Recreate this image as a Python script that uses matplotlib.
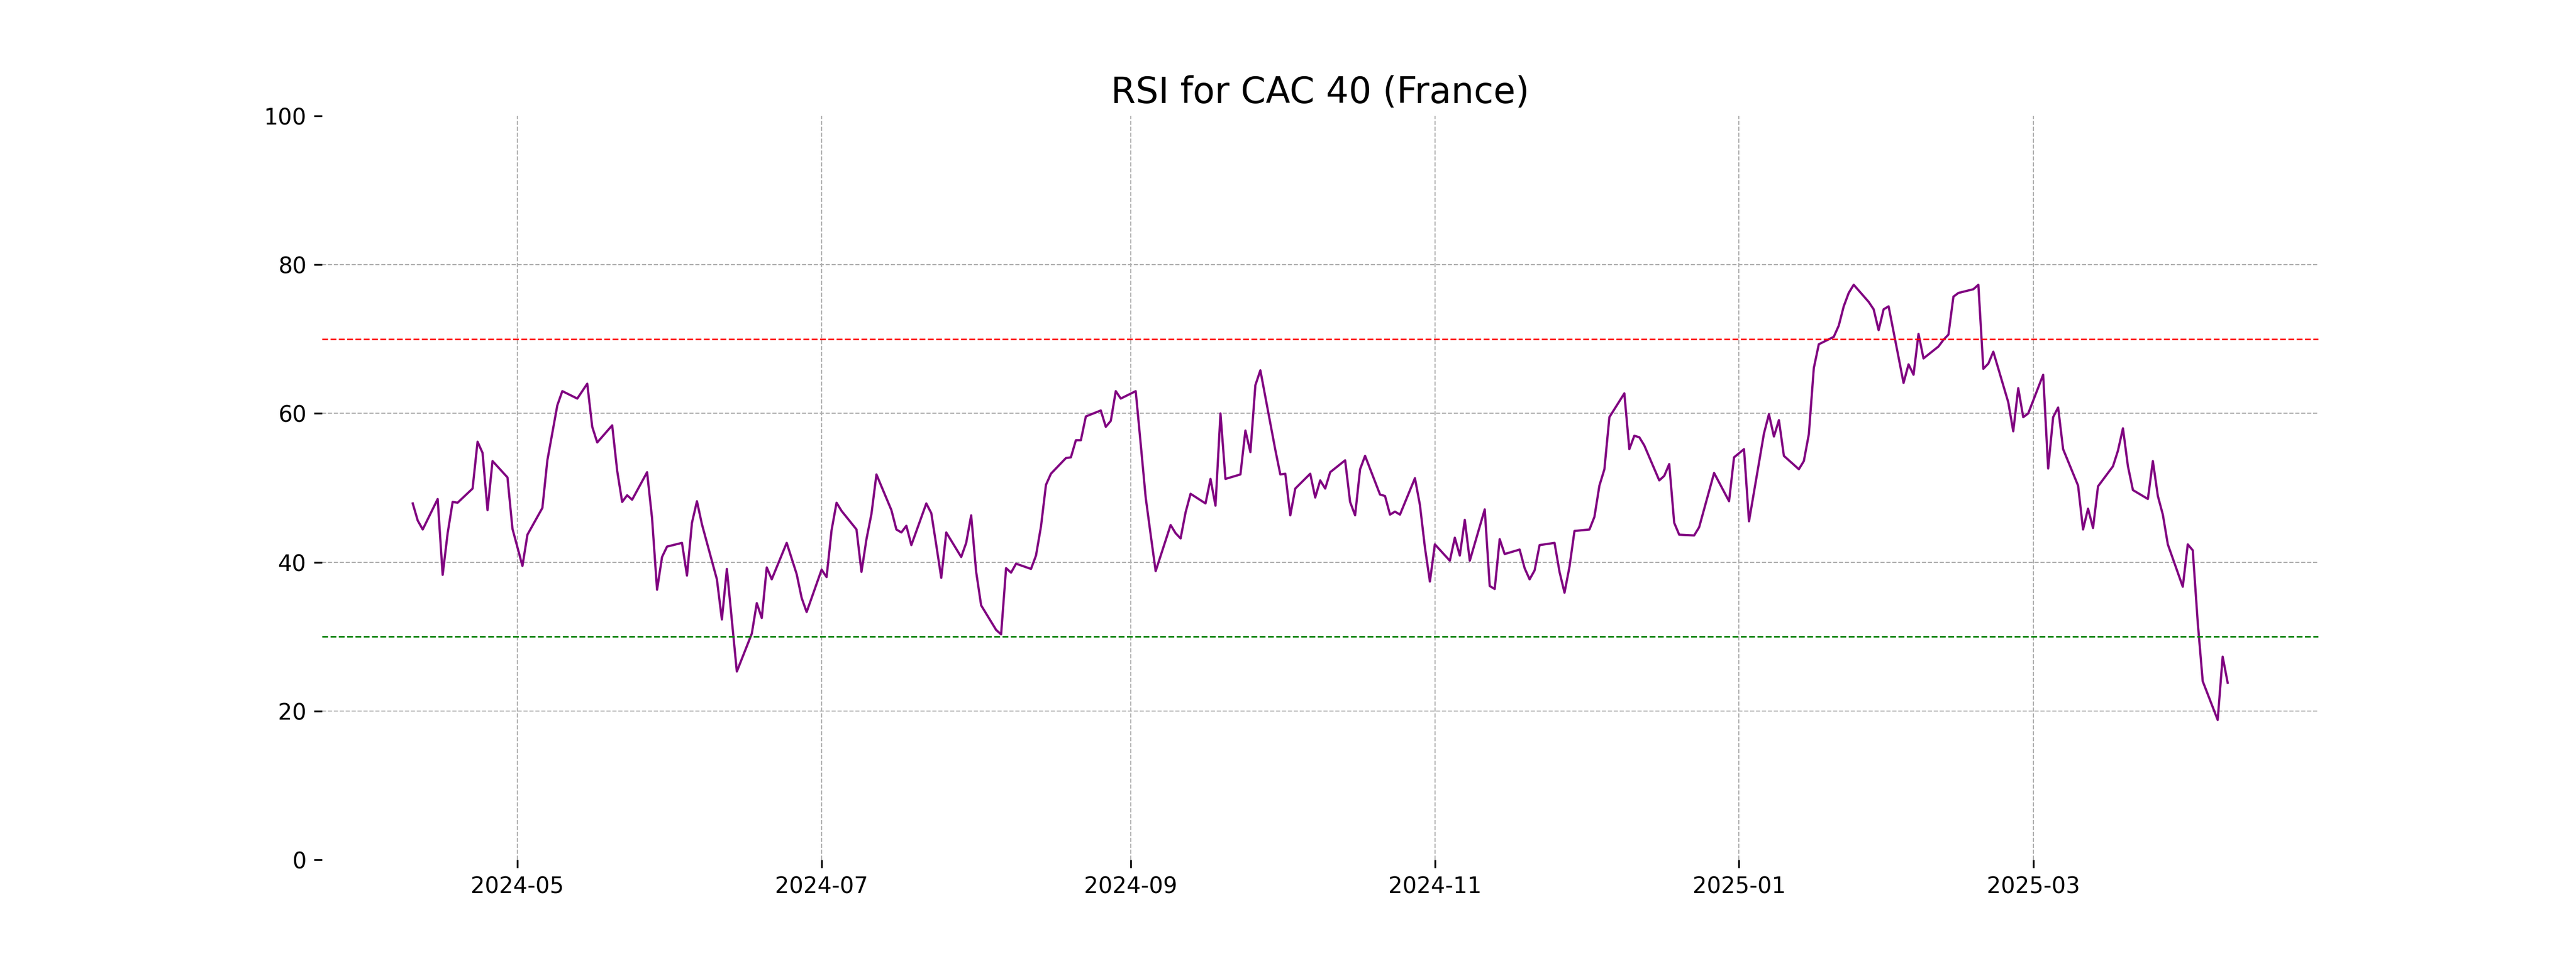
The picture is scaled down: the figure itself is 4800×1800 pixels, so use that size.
import matplotlib
matplotlib.use("Agg")
import matplotlib.pyplot as plt
import pandas as pd

title = "RSI for CAC 40 (France)"
start_date = "2024-04-10"
end_date = "2025-04-09"
market_closed = ["2024-05-01", "2024-12-25", "2024-12-26", "2025-01-01"]
y_ticks = [0, 20, 40, 60, 80, 100]

rsi_2024_04 = [47.9, 45.6, 44.4, 48.5, 38.3, 43.9, 48.1, 48.0, 49.9, 56.2, 54.7, 47.0, 53.6, 51.4, 44.5]
rsi_2024_05 = [39.5, 43.7, 47.3, 53.7, 57.4, 61.1, 63.0, 62.0, 63.0, 64.0, 58.2, 56.1, 58.4, 52.3, 48.1,
               49.0, 48.4, 52.1, 45.9, 36.3, 40.7, 42.1]
rsi_2024_06 = [42.6, 38.2, 45.3, 48.2, 45.1, 37.7, 32.3, 39.1, 32.2, 25.3, 30.4, 34.5, 32.5, 39.3, 37.7,
               42.6, 40.5, 38.4, 35.2, 33.3]
rsi_2024_07 = [39.0, 38.0, 44.3, 48.0, 46.9, 44.4, 38.7, 43.1, 46.5, 51.8, 47.0, 44.4, 44.0, 44.9, 42.3,
               47.9, 46.6, 42.3, 37.9, 44.0, 40.7, 42.6, 46.3]
rsi_2024_08 = [38.7, 34.2, 30.9, 30.3, 39.2, 38.6, 39.8, 39.1, 40.9, 44.8, 50.4, 51.9, 54.0, 54.1, 56.4,
               56.4, 59.6, 60.4, 58.2, 59.0, 63.0, 62.0]
rsi_2024_09 = [63.0, 55.9, 48.7, 43.7, 38.8, 45.0, 43.9, 43.2, 46.7, 49.2, 47.9, 51.2, 47.6, 60.0, 51.2,
               51.8, 57.7, 54.8, 63.8, 65.8, 55.1]
rsi_2024_10 = [51.8, 51.9, 46.3, 49.9, 51.9, 48.7, 51.0, 49.9, 52.1, 53.7, 48.1, 46.3, 52.5, 54.3, 49.1,
               48.9, 46.4, 46.8, 46.4, 51.3, 47.7, 42.0, 37.4]
rsi_2024_11 = [42.4, 40.2, 43.3, 40.9, 45.7, 40.2, 47.1, 36.8, 36.4, 43.1, 41.1, 41.7, 39.2, 37.7, 38.9,
               42.3, 42.6, 38.7, 35.9, 39.4, 44.2]
rsi_2024_12 = [44.4, 46.1, 50.3, 52.5, 59.5, 62.7, 55.2, 57.0, 56.8, 55.7, 51.0, 51.6, 53.2, 45.3, 43.7,
               43.6, 44.7, 52.0, 48.2, 54.1]
rsi_2025_01 = [55.2, 45.5, 57.3, 59.9, 56.9, 59.1, 54.3, 52.5, 53.6, 57.2, 66.1, 69.3, 70.3, 71.8, 74.4,
               76.2, 77.3, 75.0, 74.0, 71.2, 74.0, 74.4]
rsi_2025_02 = [64.1, 66.6, 65.2, 70.7, 67.4, 69.0, 69.9, 70.6, 75.7, 76.2, 76.7, 77.3, 66.0, 66.7, 68.3,
               61.5, 57.6, 63.4, 59.5, 60.0]
rsi_2025_03 = [65.2, 52.6, 59.5, 60.8, 55.2, 50.3, 44.4, 47.2, 44.6, 50.2, 52.9, 55.0, 58.0, 52.9, 49.7,
               48.5, 53.6, 48.9, 46.4, 42.4, 36.7]
rsi_2025_04 = [42.4, 41.6, 31.9, 24.0, 18.8, 27.3, 23.8]

overbought = 70
oversold = 30

rsi_values = (rsi_2024_04 + rsi_2024_05 + rsi_2024_06 + rsi_2024_07 + rsi_2024_08 + rsi_2024_09
              + rsi_2024_10 + rsi_2024_11 + rsi_2024_12 + rsi_2025_01 + rsi_2025_02 + rsi_2025_03
              + rsi_2025_04)

dates = pd.bdate_range(start_date, end_date)
dates = dates[~dates.isin(pd.to_datetime(market_closed))]
assert len(dates) == len(rsi_values), (len(dates), len(rsi_values))

fig, ax = plt.subplots(figsize=(16, 6), dpi=300)
ax.plot(dates, rsi_values, color="purple", linewidth=1.0)
ax.axhline(overbought, color="red", linestyle="--", linewidth=0.7)
ax.axhline(oversold, color="green", linestyle="--", linewidth=0.7)
ax.set_ylim(0, 100)
ax.set_yticks(y_ticks)
ax.set_title(title, fontsize=16)
ax.grid(True, linestyle="--", linewidth=0.5, color="#b0b0b0")
for s in ax.spines.values():
    s.set_visible(False)

yt = ax.yaxis.get_major_ticks()
yt[0].gridline.set_visible(False)
yt[-1].gridline.set_visible(False)

fig.savefig("out.png", dpi=300)
